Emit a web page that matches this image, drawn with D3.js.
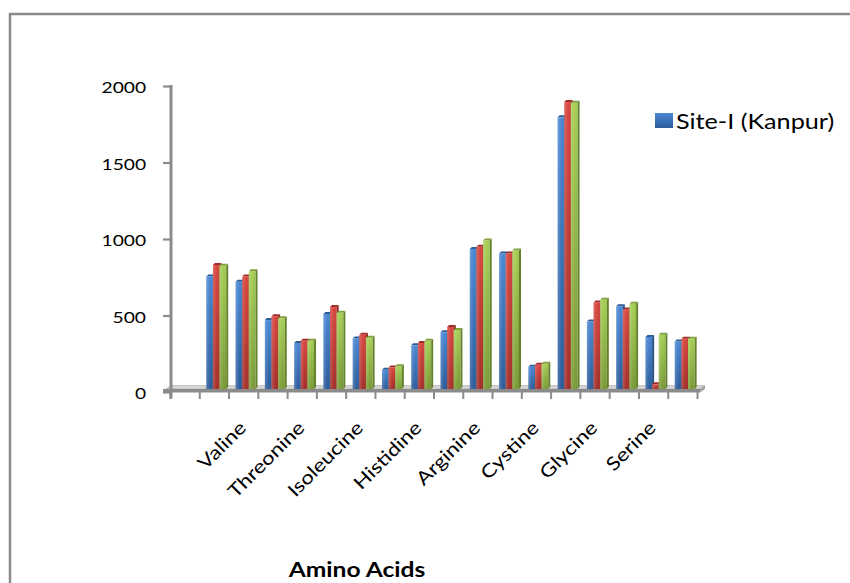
<!DOCTYPE html>
<html>
<head>
<meta charset="utf-8">
<script src="https://cdn.jsdelivr.net/npm/d3@7"></script>
<style>
  html, body { margin: 0; padding: 0; background: #ffffff; }
  svg { display: block; font-family: Lato, "Open Sans", "Noto Sans", sans-serif; }
</style>
</head>
<body>
<svg id="chart" width="850" height="583"></svg>
<script>
// Category slots along the floor; only every other slot carries a label.
const categories = ["", "", "Valine", "", "Threonine", "", "Isoleucine", "", "Histidine", "",
                    "Arginine", "", "Cystine", "", "Glycine", "", "Serine", ""];

// Amino acid content per slot for the three sampling sites.
const siteI   = [null, 755, 720, 470, 320, 510, 350, 145, 305, 390, 935, 905, 165, 1795, 460, 560, 360, 330];
const siteII  = [null, 830, 755, 495, 335, 555, 375, 160, 320, 425, 950, 905, 178, 1895, 585, 540, 50, 348];
const siteIII = [null, 825, 790, 482, 335, 518, 355, 168, 335, 405, 990, 925, 184, 1890, 603, 576, 374, 348];

const yTicks = [0, 500, 1000, 1500, 2000];
const legendLabels = ["Site-I (Kanpur)"];
const axisTitle = "Amino Acids";

// Face colours for each series: [front top, front bottom, side, top]
const palette = [
  ["#4b88d4", "#2c5c9a", "#254f86", "#2d5b93"],
  ["#d8473f", "#a42f2a", "#8a2622", "#a02d28"],
  ["#a6cf55", "#7a9b36", "#63802a", "#7e9f3c"]
];
const seriesValues = [siteI, siteII, siteIII];

const svg = d3.select("#chart");
const gray = "#8b8b8b";
const sx = 1.2;   // horizontal text stretch

// Gradients for bar fronts and the legend key
const defs = svg.append("defs");
palette.forEach((c, i) => {
  const g = defs.append("linearGradient").attr("id", "front" + i)
    .attr("x1", 0).attr("y1", 0).attr("x2", 0).attr("y2", 1);
  g.append("stop").attr("offset", "0%").attr("stop-color", c[0]);
  g.append("stop").attr("offset", "100%").attr("stop-color", c[1]);
  const h = defs.append("linearGradient").attr("id", "shine" + i)
    .attr("x1", 0).attr("y1", 0).attr("x2", 1).attr("y2", 0);
  h.append("stop").attr("offset", "0%").attr("stop-color", "#ffffff").attr("stop-opacity", 0.18);
  h.append("stop").attr("offset", "60%").attr("stop-color", "#ffffff").attr("stop-opacity", 0);
  h.append("stop").attr("offset", "100%").attr("stop-color", "#000000").attr("stop-opacity", 0.08);
});

// Outer chart frame
svg.append("rect")
  .attr("x", 10).attr("y", 14).attr("width", 900).attr("height", 620)
  .attr("fill", "none").attr("stroke", gray).attr("stroke-width", 2.5);

// Scales
const idx = d3.range(categories.length);
const x0 = d3.scaleBand().domain(idx).range([170, 697]).padding(0);
const bw = x0.bandwidth();
const x1 = d3.scaleBand().domain(d3.range(seriesValues.length)).range([bw * 0.24, bw * 0.92]);
const edge = d3.scaleLinear().domain([0, categories.length]).range(x0.range());
const y = d3.scaleLinear().domain([0, 2000]).range([392, 86]);
const y0 = y(0);
const dx = 2, dy = 2;

// Floor slab
const floor = svg.append("g");
const xEnd = edge(categories.length);
floor.append("polygon")
  .attr("points", [[166, y0 - 3], [171, y0 - 6.5], [xEnd + 8, y0 - 6.5], [xEnd + 3, y0 - 3]].join(" "))
  .attr("fill", "#d6d6d6").attr("stroke", "#a9a9a9").attr("stroke-width", 0.6);
floor.append("rect")
  .attr("x", 163).attr("y", y0 - 3).attr("width", xEnd + 3 - 163).attr("height", 3.5)
  .attr("fill", gray);
floor.append("polygon")
  .attr("points", [[xEnd + 3, y0 - 3], [xEnd + 8, y0 - 6.5], [xEnd + 8, y0 - 3], [xEnd + 3, y0 + 0.5]].join(" "))
  .attr("fill", "#a3a3a3");

// Category tick marks at slot boundaries
const xAxis = d3.axisBottom(edge).tickValues(d3.range(categories.length + 1)).tickFormat("").tickSize(7).tickSizeOuter(0);
const xg = svg.append("g").attr("transform", `translate(0,${y0})`).call(xAxis);
xg.select(".domain").remove();
xg.selectAll(".tick line").attr("stroke", gray).attr("stroke-width", 2);

// Value axis
const yAxis = d3.axisLeft(y).tickValues(yTicks).tickFormat(d3.format("d"))
  .tickSize(8).tickSizeOuter(0).tickPadding(0);
const yg = svg.append("g").attr("transform", "translate(171,0)").call(yAxis);
yg.select(".domain").remove();
yg.selectAll(".tick line").attr("stroke", gray).attr("stroke-width", 2.2);
yg.selectAll(".tick text")
  .attr("x", -25 / sx).attr("dy", "0.42em")
  .attr("transform", `scale(${sx},1)`)
  .attr("fill", "#000").attr("font-size", 16).attr("font-family", "Lato");
svg.append("line")
  .attr("x1", 171).attr("x2", 171).attr("y1", y(2000) - 1).attr("y2", y0 + 6.5)
  .attr("stroke", gray).attr("stroke-width", 3);

// Bars with front, side and top faces
const bars = svg.append("g");
idx.forEach(i => {
  seriesValues.forEach((vals, s) => {
    const v = vals[i];
    if (v == null) return;
    const xl = x0(i) + x1(s);
    const w = x1.bandwidth();
    const top = y(v);
    const base = y0 - 3;
    const g = bars.append("g");
    g.append("polygon")
      .attr("points", [[xl + w, top], [xl + w + dx, top - dy], [xl + w + dx, base - dy], [xl + w, base]].join(" "))
      .attr("fill", palette[s][2]);
    g.append("polygon")
      .attr("points", [[xl, top], [xl + dx, top - dy], [xl + w + dx, top - dy], [xl + w, top]].join(" "))
      .attr("fill", palette[s][3]);
    g.append("rect")
      .attr("x", xl).attr("y", top).attr("width", w).attr("height", Math.max(0, base - top))
      .attr("fill", `url(#front${s})`);
    g.append("rect")
      .attr("x", xl).attr("y", top).attr("width", w).attr("height", Math.max(0, base - top))
      .attr("fill", `url(#shine${s})`);
  });
});

// Rotated category labels
const labels = svg.append("g");
idx.filter(i => categories[i] !== "").forEach(i => {
  labels.append("g")
    .attr("transform", `translate(${x0(i) + bw / 2 + 4},${y0 + 37}) rotate(-45)`)
    .append("text")
    .attr("transform", `scale(${sx},1)`)
    .attr("text-anchor", "end")
    .attr("font-size", 18.5)
    .attr("fill", "#000")
    .text(categories[i]);
});

// Axis title
svg.append("g").attr("transform", "translate(357,577)")
  .append("text")
  .attr("transform", `scale(${sx},1)`)
  .attr("text-anchor", "middle")
  .attr("font-size", 20.5).attr("font-weight", "bold").attr("fill", "#000")
  .text(axisTitle);

// Legend
const legend = svg.append("g");
legendLabels.forEach((name, k) => {
  legend.append("rect")
    .attr("x", 655).attr("y", 113 + k * 24).attr("width", 18).attr("height", 15)
    .attr("fill", `url(#front${k})`);
  legend.append("g").attr("transform", `translate(676,${128.5 + k * 24})`)
    .append("text")
    .attr("transform", `scale(${sx},1)`)
    .attr("font-size", 21).attr("fill", "#000")
    .text(name);
});
</script>
</body>
</html>
